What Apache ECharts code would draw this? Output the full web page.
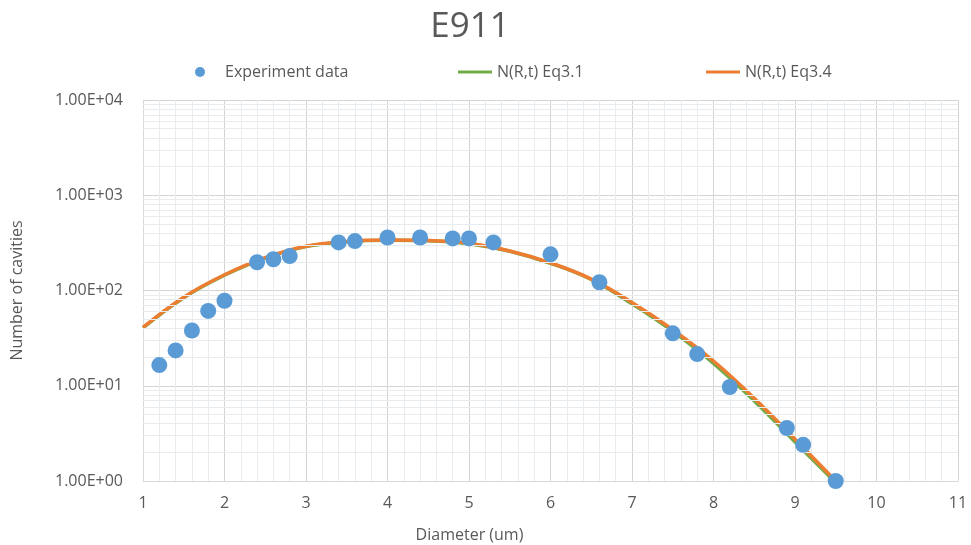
<!DOCTYPE html>
<html><head><meta charset="utf-8">
<script src="https://cdn.jsdelivr.net/npm/echarts@6/dist/echarts.min.js"></script>
<style>html,body{margin:0;padding:0;background:#fff}#c{width:971px;height:545px}</style>
</head><body><div id="c"></div>
<script>
const expX = [1.2,1.4,1.6,1.8,2.0,2.4,2.6,2.8,3.4,3.6,4.0,4.4,4.8,5.0,5.3,6.0,6.6,7.5,7.8,8.2,8.9,9.1,9.5];
const expY = [16.5,23.5,38,61,78,198,213,230,320,330,360,360,352,352,320,240,122,35.5,21.5,9.7,3.6,2.4,1.0];
const curveX = [1.0,1.5,2.0,2.5,3.0,3.5,4.0,4.5,5.0,5.5,6.0,6.5,7.0,7.5,8.0,8.5,9.0,9.5];
const eq31Y = [40.5,84,144.5,219,289,325,337,333,310,258,193,130.5,72.4,37.2,17.2,6.92,2.57,0.96];
const eq34Y = [41,85.1,146.2,221.3,291.7,327.3,338.8,335,312.6,260,195,131.8,75,38.9,18.2,7.41,2.75,1.0];
const xTicks = [1,2,3,4,5,6,7,8,9,10,11];
const yMinor = [2,3,4,5,6,7,8,9,20,30,40,50,60,70,80,90,200,300,400,500,600,700,800,900,2000,3000,4000,5000,6000,7000,8000,9000];

const txt = '#595959';
const font = "'Open Sans', 'Liberation Sans', sans-serif";
const zip = (xs, ys) => xs.map((x, i) => [x, ys[i]]);

const chart = echarts.init(document.getElementById('c'));
chart.setOption({
  animation: false,
  textStyle: {fontFamily: font},
  title: {text: 'E911', left: 465, textAlign: 'center', top: 5,
    textStyle: {fontSize: 35, fontWeight: 'normal', color: txt, fontFamily: font}},
  legend: [
    {data: [{name: 'Experiment data', icon: 'circle'}], left: 190, top: 59, itemWidth: 10, itemHeight: 10,
      textStyle: {fontSize: 16, color: txt, padding: [0, 0, 0, 15]}},
    {data: [{name: 'N(R,t) Eq3.1', icon: 'rect'}], left: 453, top: 59, itemWidth: 34, itemHeight: 3,
      textStyle: {fontSize: 16, color: txt}},
    {data: [{name: 'N(R,t) Eq3.4', icon: 'rect'}], left: 701, top: 59, itemWidth: 34, itemHeight: 3,
      textStyle: {fontSize: 16, color: txt}}
  ],
  grid: {left: 143, right: 13, top: 100, bottom: 64, containLabel: false, outerBoundsMode: 'none'},
  xAxis: {
    type: 'value', min: 1, max: 11, interval: 1,
    name: 'Diameter (um)', nameLocation: 'middle', nameGap: 46,
    nameTextStyle: {fontSize: 16, color: txt, padding: [0, 162, 0, 0]},
    axisLine: {show: true, lineStyle: {color: '#d9d9d9'}},
    axisTick: {show: false},
    axisLabel: {fontSize: 16, color: txt, margin: 14, formatter: v => xTicks.includes(v) ? String(v) : ''},
    splitLine: {show: true, lineStyle: {color: '#d4d4d4', width: 1}},
    minorTick: {show: false, splitNumber: 5},
    minorSplitLine: {show: true, lineStyle: {color: '#e9ecef', width: 1}}
  },
  yAxis: {
    type: 'log', logBase: 10, min: 1, max: 10000,
    name: 'Number of cavities', nameLocation: 'middle', nameGap: 118, nameRotate: 90,
    nameTextStyle: {fontSize: 16, color: txt},
    axisLine: {show: true, lineStyle: {color: '#d9d9d9'}},
    axisTick: {show: false},
    axisLabel: {fontSize: 16, color: txt, margin: 20,
      formatter: v => '1.00E+0' + Math.round(Math.log10(v))},
    splitLine: {show: true, lineStyle: {color: '#d4d4d4', width: 1}}
  },
  series: [
    {name: 'Experiment data', type: 'scatter', data: zip(expX, expY), symbolSize: 16, z: 5,
      itemStyle: {color: '#5B9BD5', opacity: 1}},
    {name: 'N(R,t) Eq3.1', type: 'line', data: zip(curveX, eq31Y), smooth: 0.4, showSymbol: false, z: 3,
      lineStyle: {color: '#70AD47', width: 3.5}, itemStyle: {color: '#70AD47'},
      markLine: {silent: true, symbol: 'none', label: {show: false}, animation: false,
        lineStyle: {color: '#e9ecef', width: 1, type: 'solid'},
        data: yMinor.map(v => ({yAxis: v}))}},
    {name: 'N(R,t) Eq3.4', type: 'line', data: zip(curveX, eq34Y), smooth: 0.4, showSymbol: false, z: 4,
      lineStyle: {color: '#ED7D31', width: 3.5}, itemStyle: {color: '#ED7D31'}}
  ]
});
</script></body></html>
